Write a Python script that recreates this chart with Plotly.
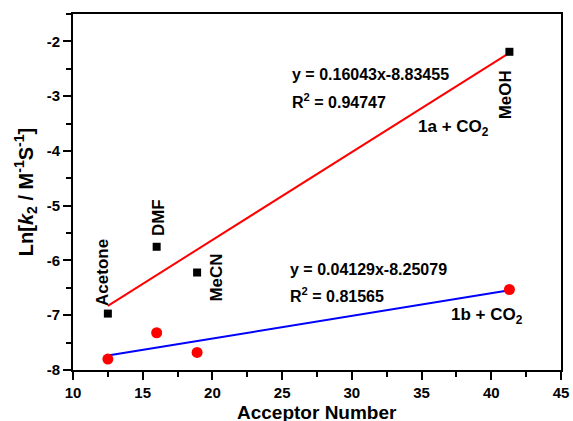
import plotly.graph_objects as go
import numpy as np

solvents = ["Acetone", "DMF", "MeCN", "MeOH"]
acceptor_number = [12.5, 16.0, 18.9, 41.3]
ln_k2_1a = [-6.97, -5.75, -6.22, -2.19]
ln_k2_1b = [-7.80, -7.32, -7.68, -6.53]
fit_1a = (0.16043, -8.83455, 0.94747)
fit_1b = (0.04129, -8.25079, 0.81565)
x_ticks = [10, 15, 20, 25, 30, 35, 40, 45]
y_ticks = [-8, -7, -6, -5, -4, -3, -2]
x_title = "Acceptor Number"
y_title = "Ln[<i>k</i><sub>2</sub> / M<sup>-1</sup>S<sup>-1</sup>]"

FONT = "Liberation Sans, Arial, sans-serif"
xs = np.array([min(acceptor_number), max(acceptor_number)])

fig = go.Figure()
fig.add_trace(go.Scatter(x=xs, y=fit_1a[0] * xs + fit_1a[1], mode="lines",
                         line=dict(color="#ff0000", width=2), showlegend=False))
fig.add_trace(go.Scatter(x=xs, y=fit_1b[0] * xs + fit_1b[1], mode="lines",
                         line=dict(color="#0000ff", width=2), showlegend=False))
fig.add_trace(go.Scatter(x=acceptor_number, y=ln_k2_1a, mode="markers",
                         marker=dict(symbol="square", size=8, color="black"), showlegend=False))
fig.add_trace(go.Scatter(x=acceptor_number, y=ln_k2_1b, mode="markers",
                         marker=dict(symbol="circle", size=11, color="#ff0000"), showlegend=False))

eq_font = dict(family=FONT, size=16, color="black", weight="bold")
lab_font = dict(family=FONT, size=17, color="black", weight="bold")
anns = [
    dict(x=25.55, y=-2.61, text=f"y = {fit_1a[0]:.5f}x{fit_1a[1]:.5f}", font=eq_font),
    dict(x=25.55, y=-3.09, text=f"R<sup>2</sup> = {fit_1a[2]:.5f}", font=eq_font),
    dict(x=34.6, y=-3.58, text="1a + CO<sub>2</sub>", font=lab_font),
    dict(x=25.45, y=-6.17, text=f"y = {fit_1b[0]:.5f}x{fit_1b[1]:.5f}", font=eq_font),
    dict(x=25.45, y=-6.63, text=f"R<sup>2</sup> = {fit_1b[2]:.5f}", font=eq_font),
    dict(x=37.0, y=-7.01, text="1b + CO<sub>2</sub>", font=lab_font),
]
for a in anns:
    fig.add_annotation(xref="x", yref="y", showarrow=False, xanchor="left", yanchor="middle", **a)

label_pos = [(12.15, -6.21), (16.12, -5.22), (20.3, -6.32), (41.0, -2.98)]
for s, (lx, ly) in zip(solvents, label_pos):
    fig.add_annotation(x=lx, y=ly, xref="x", yref="y", text=s, showarrow=False,
                       textangle=-90, font=lab_font)

# x-axis title as a paper annotation just below the tick labels
fig.add_annotation(x=0.5, y=-0.0843, xref="paper", yref="paper", xanchor="center", yanchor="top",
                   text=x_title, showarrow=False,
                   font=dict(family=FONT, size=19, color="black", weight="bold"))

axis_common = dict(showline=True, linecolor="black", linewidth=2, mirror=True,
                   ticks="outside", tickwidth=2, ticklen=8, tickcolor="black",
                   showgrid=False, zeroline=False, automargin=False,
                   tickfont=dict(family=FONT, size=15, color="black", weight="bold"),
                   minor=dict(ticks="outside", ticklen=5, tickwidth=1.5, tickcolor="black"))

fig.update_xaxes(range=[10, 45], tickvals=x_ticks, ticktext=[str(v) for v in x_ticks],
                 minor_dtick=2.5, minor_tick0=10, **axis_common)
fig.update_yaxes(range=[-8, -1.5], tickvals=y_ticks, ticktext=[str(v) for v in y_ticks],
                 minor_dtick=0.5, minor_tick0=-8,
                 title=dict(text=y_title,
                            font=dict(family=FONT, size=20, color="black", weight="bold"), standoff=8),
                 **axis_common)

fig.update_layout(width=573, height=421, margin=dict(l=73, r=12, t=14, b=51),
                  plot_bgcolor="white", paper_bgcolor="white")
fig.write_html("out.html")
